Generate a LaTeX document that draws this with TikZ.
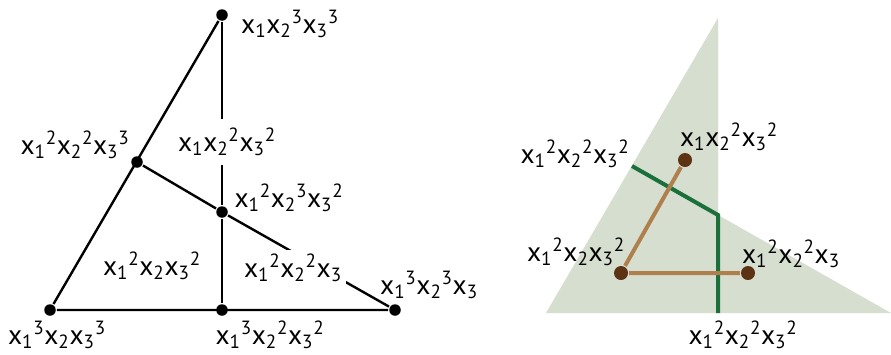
\documentclass[tikz,border=0pt]{standalone}
\usepackage{fontspec}
\setmainfont{PT Sans}
\usepackage{tikz}
\definecolor{sagefill}{HTML}{D6DECF}
\definecolor{cutgreen}{HTML}{1A7038}
\definecolor{edgetan}{HTML}{B07F4E}
\definecolor{dotbrown}{HTML}{5C3414}
\newcommand{\xs}[1]{x\textsubscript{#1}}
\newcommand{\xe}[2]{x\textsubscript{#1}\textsuperscript{#2}}
\tikzset{
	dot/.style={circle, fill=black, inner sep=0pt, minimum size=11.5pt*0.75},
	bdot/.style={circle, fill=dotbrown, inner sep=0pt, minimum size=14pt*0.75},
	mono/.style={inner sep=0pt, font=\fontsize{20.5}{24}\selectfont},
	knock/.style={mono, fill=white, inner sep=3pt}
}

\begin{document}
\begin{tikzpicture}[x=0.75pt, y=-0.75pt, line width=1.8pt]
			\useasboundingbox[fill=white] (0,0) rectangle (891,354);
			% Newton polytope
			\node[dot] (t) at (222,15) {};
			\node[dot] (lm) at (137,162) {};
			\node[dot] (c) at (222,212) {};
			\node[dot] (bl) at (50,310) {};
			\node[dot] (bm) at (222,310) {};
			\node[dot] (br) at (395,310) {};
			\draw (t) -- (bl) -- (br);
			\draw (t) -- (c) -- (bm);
			\draw (lm) -- (c) -- (br);
			\node[mono, anchor=west] (m133) at (240,24) {\xs1\xe23\xe33};
			\node[mono] (m223) at (75,145) {\xe12\xe22\xe33};
			\node[knock, inner ysep=7pt] (m122) at (227,142) {\xs1\xe22\xe32};
			\node[mono] (m232) at (289,198) {\xe12\xe23\xe32};
			\node[mono] (m212) at (152,266) {\xe12\xs2\xe32};
			\node[knock] (m221) at (293,268) {\xe12\xe22\xs3};
			\node[mono, anchor=west] (m331) at (379,285) {\xe13\xe23\xs3};
			\node[mono] (m313) at (57,335) {\xe13\xs2\xe33};
			\node[mono] (m322) at (270,335) {\xe13\xe22\xe32};
			% tropical curve and dual subdivision
			\fill[sagefill] (546,313) -- (718,18) -- (718,215) -- (891,313) -- cycle;
			\coordinate (g1) at (632,166);
			\coordinate (g2) at (718,215);
			\coordinate (g3) at (718,313);
			\draw[cutgreen, line width=3pt] (g1) -- (g2) -- (g3);
			\node[bdot] (r122) at (685,160) {};
			\node[bdot] (r212) at (621,273) {};
			\node[bdot] (r221) at (748,273) {};
			\draw[edgetan, line width=3pt] (r122) -- (r212) -- (r221);
			\node[mono] at (729,137) (l122) {\xs1\xe22\xe32};
			\node[mono] at (575,154) (l222a) {\xe12\xe22\xe32};
			\node[mono] at (576,252) (l212) {\xe12\xs2\xe32};
			\node[mono] at (791,254) (l221) {\xe12\xe22\xs3};
			\node[mono] at (743,335) (l222b) {\xe12\xe22\xe32};
		\end{tikzpicture}
\end{document}
